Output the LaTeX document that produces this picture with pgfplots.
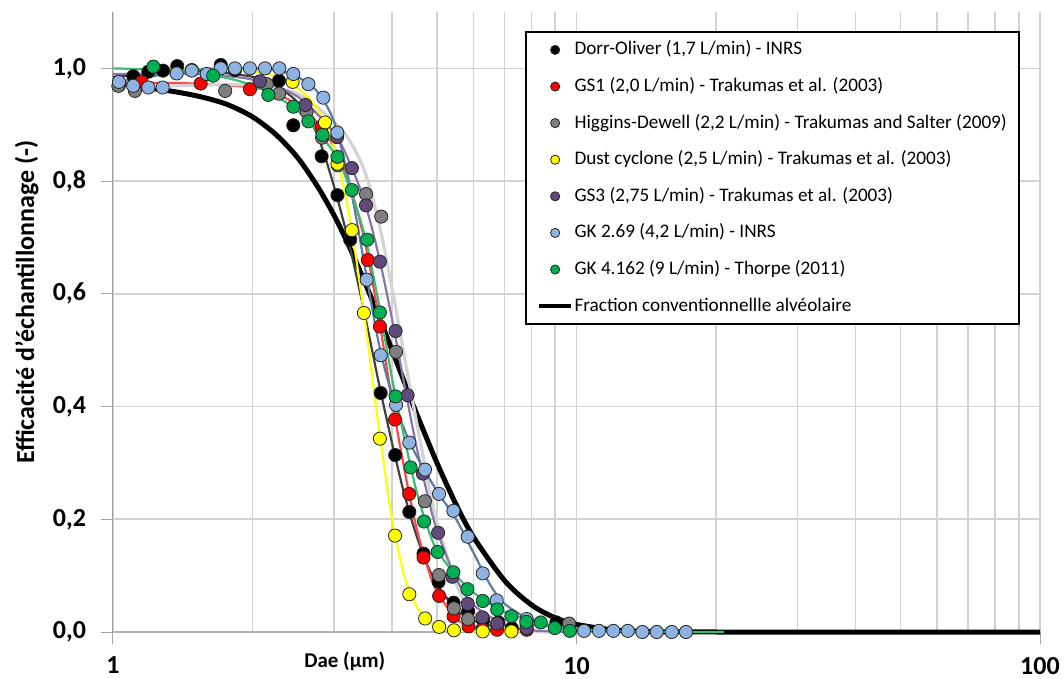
\documentclass[border=0pt]{standalone}
\usepackage{fontspec}
\setmainfont{Carlito}
\usepackage{pgfplots}
\pgfplotsset{compat=1.18}

\definecolor{mDO}{HTML}{000000}
\definecolor{mGSa}{HTML}{FF0000}
\definecolor{mHD}{HTML}{7F7F7F}
\definecolor{mDust}{HTML}{FFFF00}
\definecolor{mGSc}{HTML}{604A7B}
\definecolor{mGKa}{HTML}{8DB3E2}
\definecolor{mGKb}{HTML}{00B050}

\definecolor{lDO}{HTML}{404040}
\definecolor{lGSa}{HTML}{FF4545}
\definecolor{lHD}{HTML}{D4D4D4}
\definecolor{lDust}{HTML}{FFFF00}
\definecolor{lGSc}{HTML}{8A74AB}
\definecolor{lGKa}{HTML}{5A7DA8}
\definecolor{lGKb}{HTML}{3DBB74}

\pgfplotsset{
  pts/.style={only marks, mark=*, mark size=3.3pt,
    mark options={draw=black!85, line width=0.4pt, fill=#1},
    legend image post style={mark size=2.3pt}},
  fit/.style={smooth, no marks, draw=#1, line width=1.1pt, forget plot},
}

\begin{document}
\begin{tikzpicture}
\useasboundingbox (-56.5pt,-23.5pt) rectangle (475.5pt,316pt);
\begin{axis}[
  width=463.5pt, height=310pt, scale only axis,
  xmode=log, xmin=1, xmax=100, ymin=0, ymax=1.1,
  clip=false,
  axis lines=left, axis line style={-},
  x axis line style={draw=gray!60, line width=1pt},
  y axis line style={draw=gray!75, line width=0.5pt},
  xtick={1,10,100}, xticklabels={1,10,100},
  minor xtick={2,3,4,5,6,7,8,9,20,30,40,50,60,70,80,90},
  ytick={0,0.2,0.4,0.6,0.8,1.0},
  xmajorgrids, xminorgrids, ymajorgrids,
  major grid style={draw=gray!35, line width=0.8pt},
  minor grid style={draw=gray!35, line width=0.8pt},
  tick align=outside, major tick length=6pt, minor tick length=0pt,
  tick style={draw=gray!70, line width=0.5pt},
  /pgf/number format/assume math mode=true,
  tick label style={font=\bfseries\fontsize{13}{15}\selectfont},
  yticklabel={\pgfmathprintnumber[fixed,fixed zerofill,precision=1,use comma]{\tick}},
  xticklabel style={yshift=-3pt},
  yticklabel style={xshift=-4pt},
  xlabel={Dae (µm)},
  xlabel style={at={(axis description cs:0.25,-0.048)}, anchor=center,
    font=\bfseries\fontsize{10.5}{12}\selectfont},
  ylabel={Efficacité d'échantillonnage (-)},
  ylabel style={at={(axis description cs:-0.093,0.532)}, anchor=center,
    font=\bfseries\fontsize{13}{15}\selectfont},
  legend image code/.code={\draw[mark repeat=2,mark phase=2,#1]
    plot coordinates {(0pt,0pt) (8pt,0pt) (16pt,0pt)};},
  legend cell align=left,
  legend style={at={(axis description cs:0.4444,0.9698)}, anchor=north west,
    draw=black, line width=1.2pt, inner xsep=5.5pt, inner ysep=4.5pt,
    row sep=9.3pt, font=\fontsize{9.6}{11}\selectfont,
    nodes={inner xsep=0.7pt, inner ysep=0pt, text height=7pt, text depth=2pt}},
]

% convention alveolaire (EN 481)
\addplot[smooth, no marks, draw=black, line width=2.5pt, forget plot] coordinates {
 (1,0.971) (1.25,0.963) (1.5,0.952) (1.75,0.937) (2,0.914) (2.25,0.882)
 (2.5,0.842) (2.75,0.793) (3,0.739) (3.25,0.680) (3.5,0.619) (3.75,0.559)
 (4,0.500) (4.25,0.444) (4.5,0.391) (5,0.300) (5.5,0.226) (6,0.168)
 (7,0.091) (8,0.048) (9,0.025) (10,0.0135) (12,0.0039) (15,0.0006)
 (20,0) (30,0) (50,0) (100,0)
};

% courbes ajustees
\addplot[fit=lDO] coordinates {
 (1,0.985) (1.5,0.995) (2,0.985) (2.25,0.968) (2.5,0.94) (2.75,0.885) (3,0.79)
 (3.25,0.68) (3.5,0.56) (3.75,0.44) (4,0.335) (4.25,0.245) (4.5,0.175)
 (4.75,0.122) (5,0.085) (5.5,0.04) (6,0.02) (7,0.006) (8,0.002) (9,0)
};
\addplot[fit=lGSa] coordinates {
 (1,0.975) (1.5,0.973) (2,0.966) (2.25,0.955) (2.5,0.935) (2.75,0.905) (3,0.86)
 (3.25,0.79) (3.5,0.69) (3.75,0.555) (4,0.41) (4.25,0.29) (4.5,0.19)
 (4.75,0.12) (5,0.072) (5.5,0.024) (6,0.008) (7,0.001) (8,0)
};
\addplot[fit=lHD, line width=1.6pt] coordinates {
 (1,0.965) (1.5,0.97) (2,0.97) (2.5,0.955) (3,0.905) (3.25,0.87) (3.5,0.815)
 (3.75,0.725) (4,0.61) (4.25,0.49) (4.5,0.38) (4.75,0.28) (5,0.195)
 (5.5,0.085) (6,0.035) (7,0.006) (8,0.001) (9,0)
};
\addplot[fit=lDust] coordinates {
 (1.25,1.0) (1.5,1.0) (2,0.995) (2.25,0.985) (2.5,0.965) (2.75,0.93) (3,0.86)
 (3.25,0.73) (3.5,0.55) (3.75,0.36) (4,0.2) (4.25,0.1) (4.5,0.048)
 (4.75,0.022) (5,0.01) (5.5,0.003) (6,0.001) (7.2,0)
};
\addplot[fit=lGSc] coordinates {
 (1,0.99) (1.5,0.99) (2,0.98) (2.5,0.95) (3,0.885) (3.25,0.83) (3.5,0.76)
 (3.75,0.665) (4,0.555) (4.25,0.44) (4.5,0.335) (4.75,0.25) (5,0.18)
 (5.5,0.095) (6,0.048) (7,0.013) (8,0.003) (10,0)
};
\addplot[fit=lGKa] coordinates {
 (1,0.975) (1.2,0.985) (1.4,0.995) (1.7,1.0) (2,1.0) (2.25,0.997) (2.5,0.985)
 (2.75,0.96) (3,0.905) (3.25,0.79) (3.5,0.645) (3.75,0.51) (4,0.42)
 (4.25,0.36) (4.5,0.315) (5,0.25) (5.5,0.2) (6,0.14) (6.5,0.085) (7,0.05)
 (8,0.02) (9,0.008) (10,0.003) (12,0.001) (17.2,0)
};
\addplot[fit=lGKb] coordinates {
 (1,1.0) (1.5,0.993) (2,0.97) (2.5,0.925) (3,0.85) (3.25,0.785) (3.5,0.70)
 (3.75,0.58) (4,0.45) (4.25,0.345) (4.5,0.255) (4.75,0.19) (5,0.145)
 (5.5,0.1) (6,0.07) (6.5,0.05) (7,0.036) (8,0.02) (9,0.011) (10,0.006)
 (12,0.002) (15,0.0005) (20.8,0)
};

% points mesures
\addplot[pts=mDO] coordinates {
 (1.03,0.970) (1.106,0.986) (1.192,0.994) (1.282,0.996) (1.376,1.004)
 (1.479,0.997) (1.708,1.006) (1.833,0.997) (2.281,0.978) (2.449,0.899)
 (2.819,0.844) (3.050,0.775) (3.249,0.696) (3.781,0.424) (4.063,0.314)
 (4.358,0.213) (4.677,0.139) (5.039,0.089) (5.430,0.052) (5.838,0.037)
 (6.289,0.021) (6.784,0.017) (7.253,0.007) (7.808,0.012) (9.05,0.017)
};
\addlegendentry{Dorr-Oliver (1,7 L/min) - INRS}
\addplot[pts=mGSa] coordinates {
 (1.153,0.976) (1.546,0.973) (1.975,0.963) (2.819,0.897) (3.546,0.660)
 (3.766,0.542) (4.060,0.377) (4.355,0.245) (4.677,0.132) (5.054,0.064)
 (5.430,0.028) (5.850,0.010) (6.27,0.005) (6.74,0.004) (7.81,0.004)
};
\addlegendentry{GS1 (2,0 L/min) - Trakumas et al. (2003)}
\addplot[pts=mHD] coordinates {
 (1.027,0.969) (1.115,0.960) (1.746,0.960) (2.146,0.972) (2.283,0.955)
 (2.617,0.923) (2.826,0.877) (3.055,0.828) (3.515,0.777) (3.791,0.737)
 (4.080,0.497) (4.708,0.232) (5.048,0.101) (5.438,0.042) (5.836,0.023)
 (7.808,0.021) (9.640,0.015)
};
\addlegendentry{Higgins-Dewell (2,2 L/min) - Trakumas and Salter (2009)}
\addplot[pts=mDust] coordinates {
 (2.441,0.976) (2.867,0.904) (3.050,0.831) (3.277,0.713) (3.478,0.566)
 (3.766,0.343) (4.060,0.171) (4.358,0.067) (4.714,0.024) (5.054,0.009)
 (5.440,0.003) (6.277,0.001) (7.236,0.001)
};
\addlegendentry{Dust cyclone (2,5 L/min) - Trakumas et al. (2003)}
\addplot[pts=mGSc] coordinates {
 (2.075,0.977) (2.602,0.935) (3.044,0.878) (3.277,0.823) (3.515,0.757)
 (3.766,0.657) (4.070,0.534) (4.322,0.420) (4.662,0.281) (5.028,0.176)
 (5.395,0.098) (5.826,0.050) (6.263,0.026) (6.74,0.015) (7.808,0.007)
};
\addlegendentry{GS3 (2,75 L/min) - Trakumas et al. (2003)}
\addplot[pts=mGKa] coordinates {
 (1.030,0.976) (1.106,0.969) (1.192,0.966) (1.280,0.966) (1.372,0.991)
 (1.479,0.996) (1.593,0.990) (1.708,1.0) (1.833,1.0) (1.975,1.0)
 (2.128,1.0) (2.285,1.0) (2.449,0.990) (2.639,0.972) (2.843,0.948)
 (3.048,0.886) (3.527,0.625) (3.781,0.491) (4.080,0.403) (4.358,0.336)
 (4.712,0.288) (5.051,0.245) (5.424,0.215) (5.826,0.169) (6.277,0.104)
 (6.727,0.056) (7.808,0.023) (10.38,0.002) (11.18,0.002) (12.01,0.002)
 (12.90,0.002) (13.87,0) (14.90,0) (16.05,0) (17.23,0)
};
\addlegendentry{GK 2.69 (4,2 L/min) - INRS}
\addplot[pts=mGKb] coordinates {
 (1.222,1.003) (1.645,0.987) (2.163,0.953) (2.449,0.932) (2.639,0.906)
 (2.833,0.882) (3.050,0.843) (3.277,0.784) (3.536,0.696) (3.766,0.567)
 (4.070,0.418) (4.385,0.292) (4.689,0.196) (5.017,0.142) (5.424,0.106)
 (5.816,0.076) (6.277,0.055) (6.745,0.040) (7.236,0.028) (7.793,0.018)
 (8.372,0.017) (8.98,0.007) (9.675,0.002)
};
\addlegendentry{GK 4.162 (9 L/min) - Thorpe (2011)}

\addlegendimage{draw=black, line width=2pt, no marks}
\addlegendentry{Fraction conventionnellle alvéolaire}
\end{axis}
\end{tikzpicture}
\end{document}
